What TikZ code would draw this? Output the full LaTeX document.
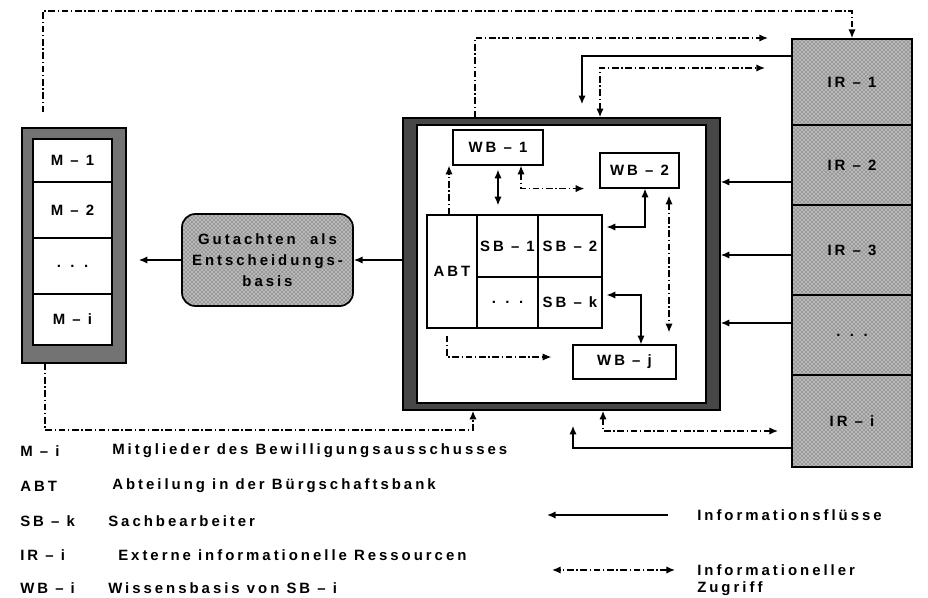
\documentclass[tikz,border=0pt]{standalone}
\usepackage{fontspec}
\setmainfont{Liberation Sans}
\newfontfamily\plotfont[LetterSpace=20]{Liberation Sans}
\newcommand\plotschrift{\plotfont\bfseries\fontsize{11.2}{13}\selectfont}
\usepackage{tikz}
\usetikzlibrary{arrows,arrows.meta,positioning,patterns,calc}
\newdimen\pxu \pxu=0.75pt

\tikzset{
	>={Latex[length=6.5pt,width=5.5pt]},
	fluss/.style={line width=1.1pt},
	zugriff/.style={line width=1.1pt,dash pattern=on 5pt off 2pt on 1pt off 2pt},
	zelle/.style={draw,line width=0.9pt,fill=white,inner sep=0pt,font=\plotschrift},
	rahmen/.style={draw,line width=1.2pt,fill=black!55,inner sep=0pt},
	raster/.style={draw,line width=1.3pt,inner sep=0pt,font=\plotschrift,
		preaction={fill=black!28},pattern=crosshatch dots,pattern color=black!80},
	legende/.style={anchor=west,inner sep=0pt,font=\plotschrift}
}

\begin{document}
\begin{tikzpicture}[x=0.75pt,y=-0.75pt]
	\useasboundingbox (0,0) rectangle (928,598);
	% Mitglieder
	\node[rahmen,minimum width=104*\pxu,minimum height=235*\pxu] (mrahmen) at (74,245.5) {};
	\node[zelle,minimum width=79*\pxu,minimum height=43*\pxu] (m1) at (72.5,160.5) {M – 1};
	\node[zelle,minimum width=79*\pxu,minimum height=56*\pxu] (m2) at (72.5,210) {M – 2};
	\node[zelle,minimum width=79*\pxu,minimum height=56*\pxu] (mdots) at (72.5,266) {. . .};
	\node[zelle,minimum width=79*\pxu,minimum height=51*\pxu] (mi) at (72.5,319.5) {M – i};
	% Gutachten
	\node[raster,rounded corners=10pt,align=center,minimum width=171*\pxu,minimum height=92*\pxu] (gut) at (267.5,260)
		{Gutachten~~als\\[3pt]Entscheidungs-\\[3pt]basis};
	% Buergschaftsbank
	\node[rahmen,fill=black!72,minimum width=317*\pxu,minimum height=292*\pxu] (bank) at (561.5,264) {};
	\node[draw,fill=white,line width=0.8pt,minimum width=289*\pxu,minimum height=278*\pxu] (bankin) at (561.5,264) {};
	\node[zelle,minimum width=50*\pxu,minimum height=113*\pxu] (abt) at (452,271.5) {ABT};
	\node[zelle,minimum width=61*\pxu,minimum height=62*\pxu] (sb1) at (507.5,246) {SB – 1};
	\node[zelle,minimum width=64*\pxu,minimum height=62*\pxu] (sb2) at (570,246) {SB – 2};
	\node[zelle,minimum width=61*\pxu,minimum height=51*\pxu] (sbdots) at (507.5,302.5) {. . .};
	\node[zelle,minimum width=64*\pxu,minimum height=51*\pxu] (sbk) at (570,302.5) {SB – k};
	\node[zelle,minimum width=90*\pxu,minimum height=35*\pxu] (wb1) at (498,147.5) {WB – 1};
	\node[zelle,minimum width=79*\pxu,minimum height=35*\pxu] (wb2) at (639.5,170.5) {WB – 2};
	\node[zelle,minimum width=103*\pxu,minimum height=34*\pxu] (wbj) at (624.5,362) {WB – j};
	% Ressourcen
	\node[raster,minimum width=120*\pxu,minimum height=86*\pxu] (ir1) at (852,82) {IR – 1};
	\node[raster,minimum width=120*\pxu,minimum height=80*\pxu] (ir2) at (852,165) {IR – 2};
	\node[raster,minimum width=120*\pxu,minimum height=90*\pxu] (ir3) at (852,250) {IR – 3};
	\node[raster,minimum width=120*\pxu,minimum height=80*\pxu] (irdots) at (852,335) {. . .};
	\node[raster,minimum width=120*\pxu,minimum height=92*\pxu] (iri) at (852,421) {IR – i};
	\coordinate (zr1) at (768,38);
	\coordinate (zr2) at (765,68);
	\coordinate (zr3) at (778,431);
	% aussen
	\draw[zugriff,->,shorten <=15*\pxu] (mrahmen.north -| 43,0) -- (43,11) -| (ir1.north);
	\draw[zugriff,->] (bank.north -| 475,0) |- (zr1);
	\draw[fluss,->,shorten >=13*\pxu] (ir1.west |- 0,56) -| (bank.north -| 582,0);
	\draw[zugriff,<->] (bank.north -| 600,0) |- (zr2);
	\draw[fluss,->] (ir2.west |- 0,182) -- (bank.east |- 0,182);
	\draw[fluss,->] (ir3.west |- 0,255) -- (bank.east |- 0,255);
	\draw[fluss,->] (irdots.west |- 0,323) -- (bank.east |- 0,323);
	\draw[fluss,->,shorten >=15*\pxu] (iri.west |- 0,448) -| (bank.south -| 573,0);
	\draw[zugriff,<->] (bank.south -| 603,0) |- (zr3);
	\draw[zugriff,->] (mrahmen.south -| 45,0) -- (45,430) -| (bank.south -| 473,0);
	\draw[fluss,->] (bank.west |- gut.east) -- (gut.east);
	\draw[fluss,->,shorten >=12*\pxu] (gut.west) -- (gut.west -| mrahmen.east);
	% innen
	\draw[zugriff,->] (abt.north -| 449,0) -- (wb1.south -| 449,0);
	\draw[fluss,<->,shorten <=4*\pxu,shorten >=9*\pxu] (wb1.south) -- (wb1.south |- sb1.north);
	\draw[zugriff,<->,shorten >=15*\pxu] (wb1.south -| 521,0) |- (wb2.south west);
	\draw[fluss,<->,shorten <=4*\pxu] (sb2.east |- 0,227) -| (wb2.south -| 645,0);
	\draw[zugriff,<->,shorten <=7*\pxu,shorten >=12*\pxu] (wb2.south -| 669,0) -- (wbj.north -| 669,0);
	\draw[fluss,<->,shorten <=4*\pxu] (sbk.east |- 0,295) -| (wbj.north -| 641,0);
	\draw[zugriff,->,shorten <=7*\pxu,shorten >=21*\pxu] (abt.south -| 447,0) |- (wbj.west |- 0,357);
	% Legende
	\node[legende] (lm) at (20,451) {M – i};
	\node[legende] (lmtxt) at (112,451) {Mitglieder des Bewilligungsausschusses};
	\node[legende] (labt) at (20,486) {ABT};
	\node[legende] (labttxt) at (112,486) {Abteilung in der Bürgschaftsbank};
	\node[legende] (lsb) at (20,521) {SB – k};
	\node[legende] (lsbtxt) at (108,521) {Sachbearbeiter};
	\node[legende] (lir) at (20,555) {IR – i};
	\node[legende] (lirtxt) at (118,555) {Externe informationelle Ressourcen};
	\node[legende] (lwb) at (20,588) {WB – i};
	\node[legende] (lwbtxt) at (108,588) {Wissensbasis von SB – i};
	\node[legende] (lfluss) at (697,515) {Informationsflüsse};
	\node[legende] (lzug1) at (697,570) {Informationeller};
	\node[legende] (lzug2) at (697,589) {Zugriff};
	\draw[fluss,->] ([xshift=-29*\pxu]lfluss.west) -- ++(-121,0);
	\draw[zugriff,<->] ([xshift=-22*\pxu]lzug1.west) -- ++(-123,0);
\end{tikzpicture}
\end{document}
